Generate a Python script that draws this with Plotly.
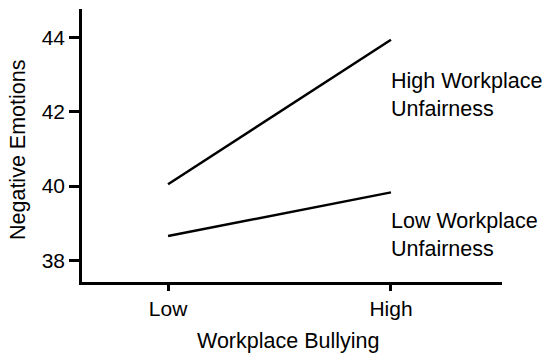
import plotly.graph_objects as go

bullying = ["Low", "High"]
bullying_pos = [0, 1]
high_unfair = [40.05, 43.95]
low_unfair = [38.65, 39.83]
y_ticks = [38, 40, 42, 44]

font = "Liberation Sans, Arial, sans-serif"

fig = go.Figure()
fig.add_trace(go.Scatter(x=bullying_pos, y=high_unfair, mode="lines",
                         line=dict(color="black", width=2.5), showlegend=False))
fig.add_trace(go.Scatter(x=bullying_pos, y=low_unfair, mode="lines",
                         line=dict(color="black", width=2.5), showlegend=False))

# series labels
fig.add_annotation(x=1, y=42.46, text="High Workplace<br>Unfairness", showarrow=False,
                   xanchor="left", yanchor="middle", align="left", xshift=-2,
                   font=dict(size=21.5, color="black", family=font))
fig.add_annotation(x=1, y=38.69, text="Low Workplace<br>Unfairness", showarrow=False,
                   xanchor="left", yanchor="middle", align="left", xshift=-2,
                   font=dict(size=21.5, color="black", family=font))

# axis titles
fig.add_annotation(xref="paper", yref="paper", x=0.4905, y=-0.216, text="Workplace Bullying",
                   showarrow=False, xanchor="center", yanchor="middle",
                   font=dict(size=21.5, color="black", family=font))
fig.add_annotation(xref="paper", yref="paper", x=0, y=0.4835, text="Negative Emotions",
                   showarrow=False, xanchor="center", yanchor="middle", textangle=-90,
                   xshift=-64, borderpad=0,
                   font=dict(size=21.5, color="black", family=font))

fig.update_xaxes(range=[-0.386, 1.498], tickvals=bullying_pos, ticktext=bullying,
                 showline=True, linecolor="black", linewidth=2.5, ticks="outside",
                 ticklen=6, tickwidth=2.5, tickcolor="black", showgrid=False, zeroline=False,
                 tickfont=dict(size=21, family=font, color="black"), automargin=False)
fig.update_yaxes(range=[37.41, 44.78], tickvals=y_ticks,
                 showline=True, linecolor="black", linewidth=2.5, ticks="outside",
                 ticklen=10, tickwidth=2.5, tickcolor="black", showgrid=False, zeroline=False,
                 tickfont=dict(size=21, family=font, color="black"), automargin=False)
# page body keeps its default 8px margin, so the figure is 8px smaller on each side
fig.update_layout(width=542, height=351, margin=dict(l=74, r=48, t=1, b=77),
                  plot_bgcolor="white", paper_bgcolor="white",
                  font=dict(family=font, size=21, color="black"))
fig.write_html("out.html")
